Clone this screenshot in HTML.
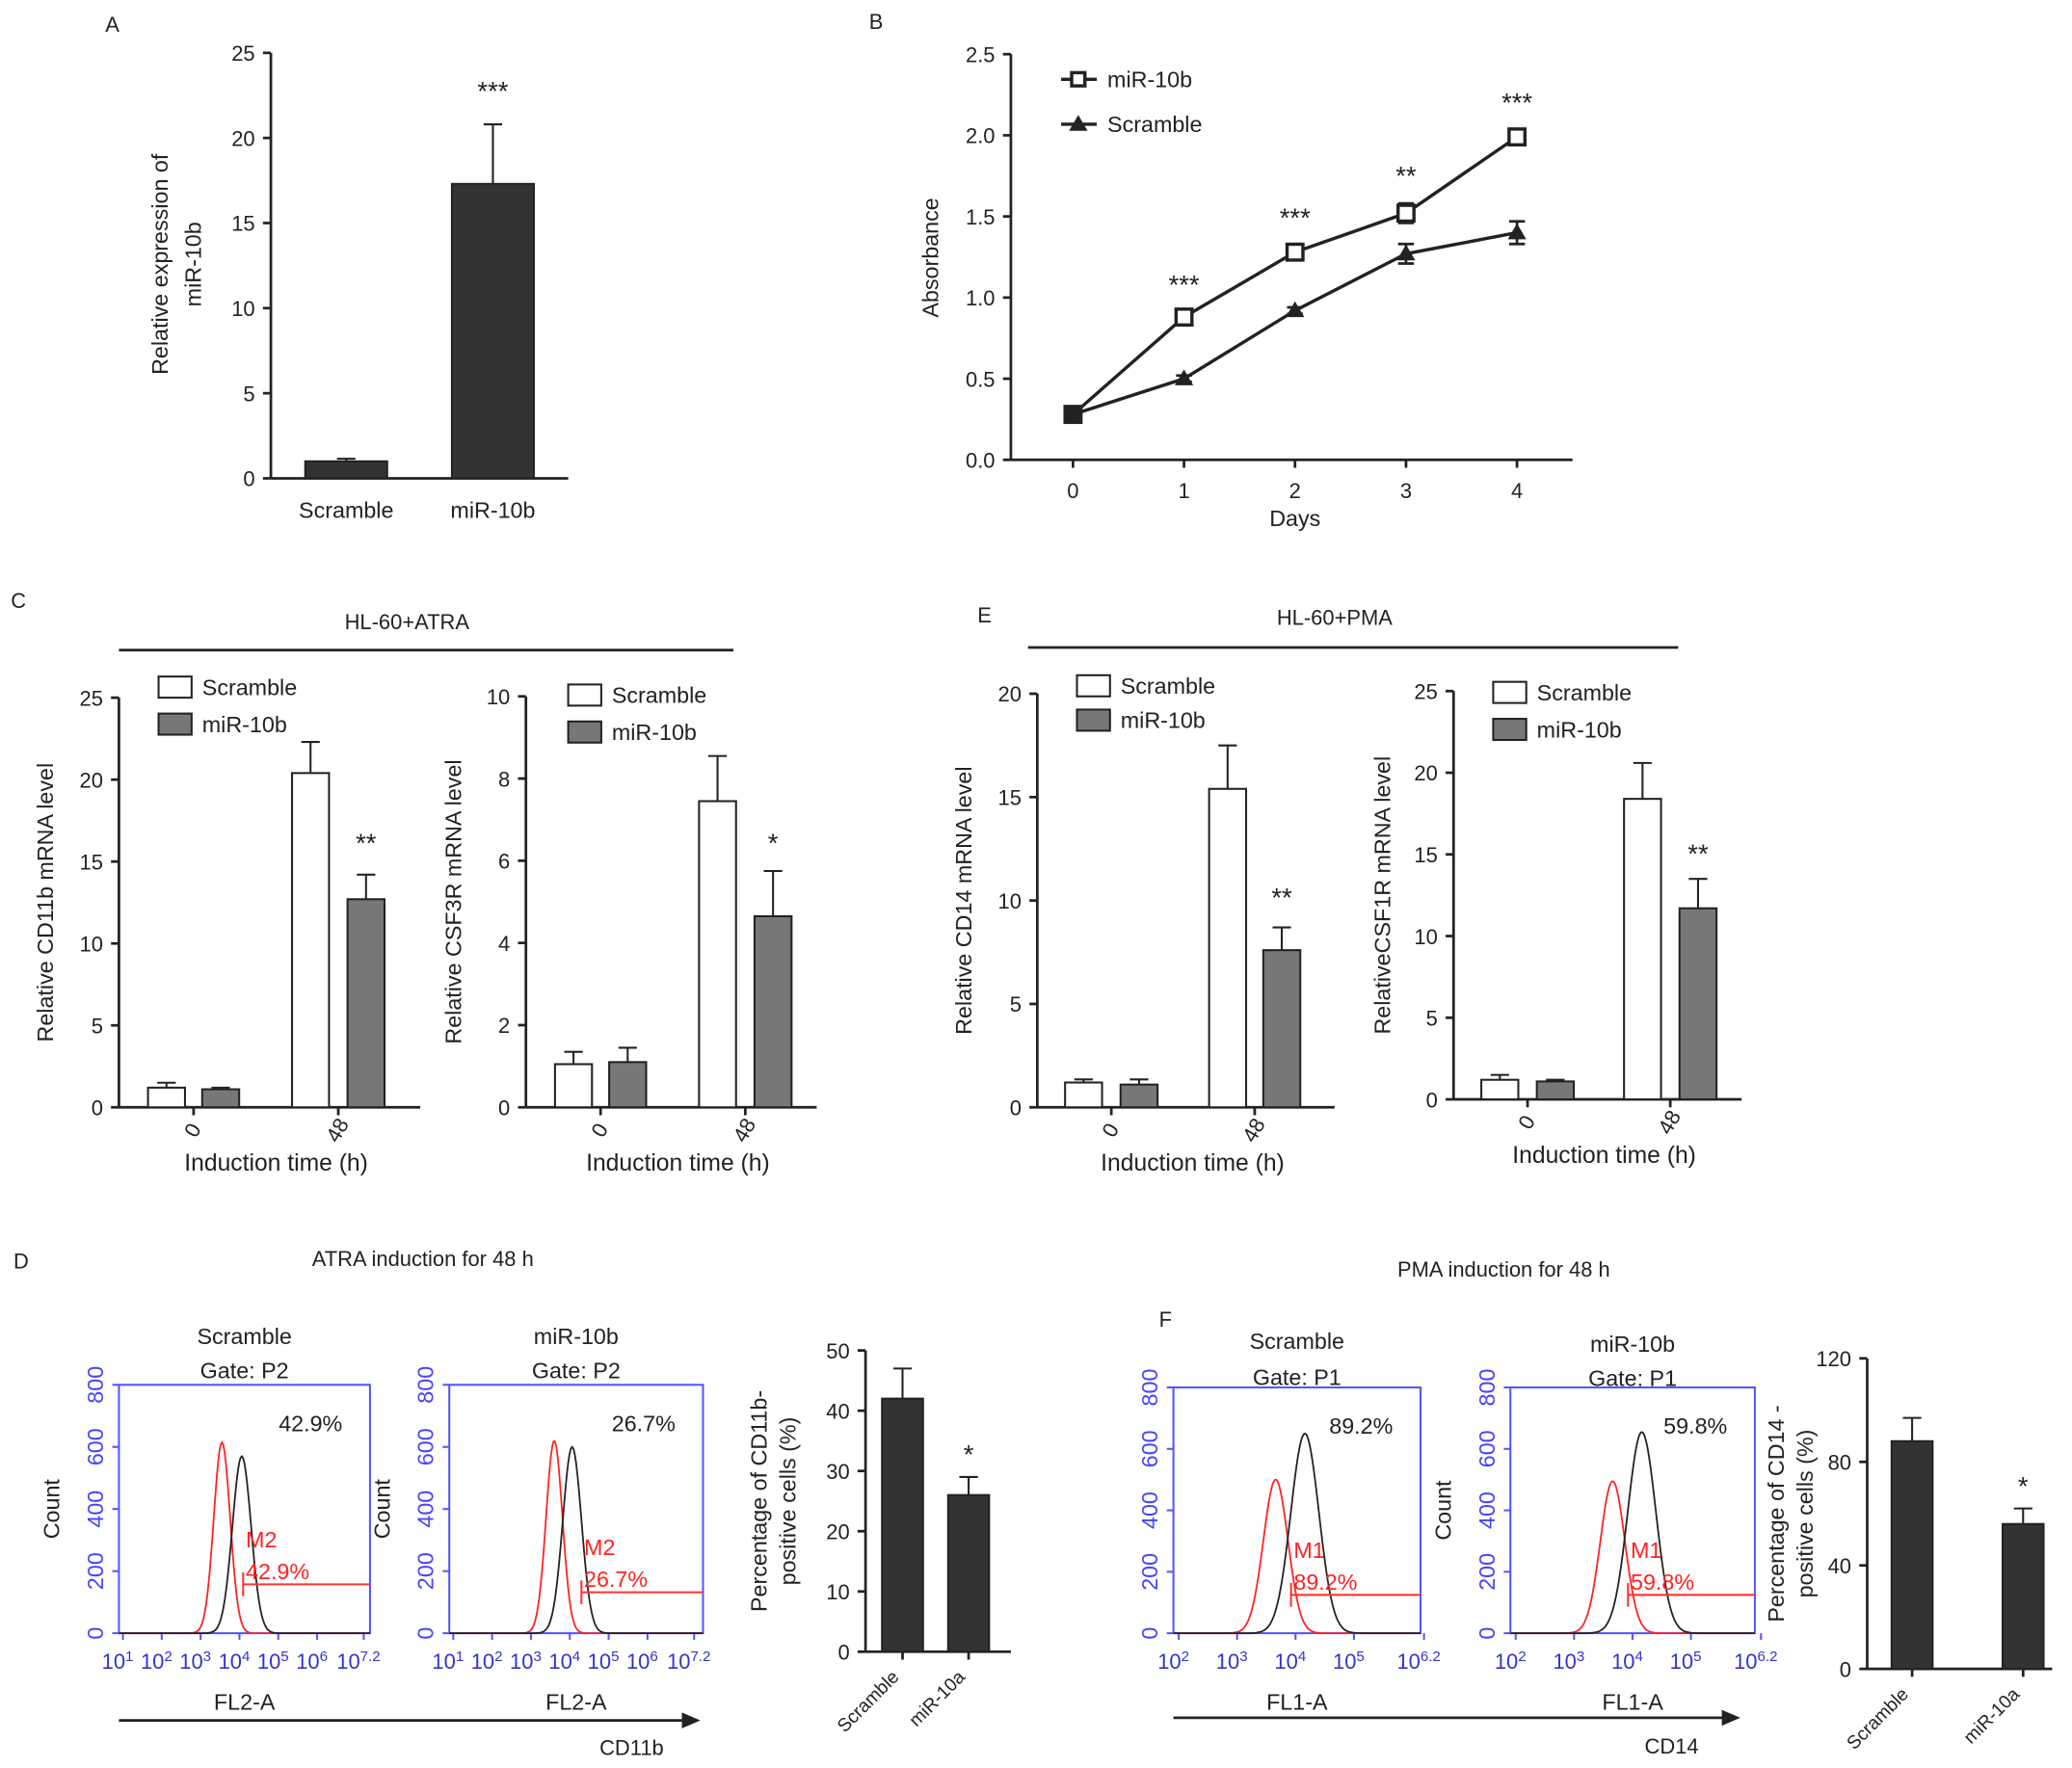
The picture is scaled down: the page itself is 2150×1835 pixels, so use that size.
<!DOCTYPE html>
<html><head><meta charset="utf-8"><style>
html,body{margin:0;padding:0;background:#fff;}
svg{display:block;font-family:"Liberation Sans",Arial,sans-serif;}
</style></head><body>
<svg id="fig" width="2150" height="1835" viewBox="0 0 1568 1338" preserveAspectRatio="none" xmlns="http://www.w3.org/2000/svg"></svg>
<script>
// ---- data ----
const aCats=["Scramble","miR-10b"], aVals=[1.0,17.3], aErr=[0.15,3.5];
const bDays=[0,1,2,3,4];
const bMir=[0.28,0.88,1.28,1.52,1.99], bMirErr=[0.03,0.03,0.04,0.06,0.04];
const bScr=[0.28,0.50,0.92,1.27,1.40], bScrErr=[0.02,0.02,0.02,0.06,0.07];
const bStars=["","***","***","**","***"];
const c1Scr=[1.2,20.4], c1ScrErr=[0.3,1.9], c1Mir=[1.1,12.7], c1MirErr=[0.1,1.5];
const c2Scr=[1.05,7.45], c2ScrErr=[0.3,1.1], c2Mir=[1.1,4.65], c2MirErr=[0.35,1.1];
const e1Scr=[1.2,15.4], e1ScrErr=[0.15,2.1], e1Mir=[1.1,7.6], e1MirErr=[0.25,1.1];
const e2Scr=[1.2,18.4], e2ScrErr=[0.3,2.2], e2Mir=[1.1,11.7], e2MirErr=[0.1,1.8];
const timeCats=["0","48"];
const dCats=["Scramble","miR-10a"], dVals=[42,26], dErr=[5,3];
const fVals=[88,56], fErr=[9,6];
const histPeaks={d1:[3.55,615,4.06,570],d2:[3.6,620,4.06,600],f1:[3.66,500,4.16,650],f2:[3.66,495,4.16,655]};

const S=document.getElementById('fig');const NS="http://www.w3.org/2000/svg";
function el(t,a,txt){const e=document.createElementNS(NS,t);for(const k in a)e.setAttribute(k,a[k]);if(txt!==undefined)e.textContent=txt;S.appendChild(e);return e;}
function tx(x,y,s,o){o=o||{};const e=el('text',{x:x,y:y,'font-size':o.fs||16,'text-anchor':o.anc||'middle',fill:o.fill||'#222'},s);if(o.rot!==undefined)e.setAttribute('transform',`rotate(${o.rot} ${x} ${y})`);

return e;}
function ln(x1,y1,x2,y2,c,w,name){const e=el('line',{x1,y1,x2,y2,stroke:c||'#222','stroke-width':w||2});

return e;}
function yAxis(x,top,bot,max,step,fs,fmt){const sc=v=>bot-(v/max)*(bot-top);ln(x,top,x,bot,'#222',2,'y-axis');
for(let v=0;v<=max+1e-9;v+=step){ln(x-6,sc(v),x,sc(v),'#222',2,'y-tick');tx(x-12,sc(v)+6,fmt?fmt(v):String(v),{anc:'end',fs:fs||16,name:'y-tick-label'});}return sc;}
function bar(cx,w,v,e,sc,fill,name){const y=sc(v),b=sc(0);const r=el('rect',{x:cx-w/2,y:y,width:w,height:b-y,fill:fill,stroke:'#222','stroke-width':1.5});


ln(cx,y,cx,sc(v+e),'#222',1.5,'error-bar');ln(cx-7,sc(v+e),cx+7,sc(v+e),'#222',1.5,'error-cap');}

// Panel letters
[["A",85,24],["B",663,22],["C",14,460],["E",745,471],["D",16,960],["F",882,1004]].forEach(p=>tx(p[1],p[2],p[0],{fs:16,name:'panel-letter'}));

// ---- Panel A ----
(function(){const sc=yAxis(205,40,362,25,5,16);ln(205,362,430,362,'#222',2,'x-axis');
const xs=[262,373];aCats.forEach((c,i)=>{bar(xs[i],62,aVals[i],aErr[i],sc,'#333','bar-'+c.toLowerCase());tx(xs[i],392,c,{fs:17,name:'x-label'});});
tx(373,76,"***",{fs:20,name:'significance'});
tx(127,200,"Relative expression of",{fs:17,rot:-90,name:'y-axis-title'});tx(152,200,"miR-10b",{fs:17,rot:-90,name:'y-axis-title'});})();

// ---- Panel B ----
(function(){const sc=yAxis(765,41,348,2.5,0.5,16,v=>v.toFixed(1));ln(765,348,1190,348,'#222',2,'x-axis');
const xs=d=>812+d*84;
bDays.forEach(d=>{ln(xs(d),348,xs(d),354,'#222',2,'x-tick');tx(xs(d),377,String(d),{fs:16,name:'x-tick-label'});});
tx(980,398,"Days",{fs:17,name:'x-axis-title'});tx(710,195,"Absorbance",{fs:17,rot:-90,name:'y-axis-title'});
function series(vals,errs,marker,name){let pts=bDays.map((d,i)=>xs(d)+','+sc(vals[i])).join(' ');
const p=el('polyline',{points:pts,fill:'none',stroke:'#222','stroke-width':2.5});


bDays.forEach((d,i)=>{const x=xs(d),y=sc(vals[i]);ln(x,sc(vals[i]-errs[i]),x,sc(vals[i]+errs[i]),'#222',2,'error-bar');ln(x-6,sc(vals[i]+errs[i]),x+6,sc(vals[i]+errs[i]),'#222',2,'error-cap');ln(x-6,sc(vals[i]-errs[i]),x+6,sc(vals[i]-errs[i]),'#222',2,'error-cap');
let m;if(marker==='sq')m=el('rect',{x:x-6,y:y-6,width:12,height:12,fill:i===0?'#222':'#fff',stroke:'#222','stroke-width':2.5});else m=el('polygon',{points:`${x},${y-7} ${x+7},${y+5} ${x-7},${y+5}`,fill:'#222'});

});}
series(bScr,bScrErr,'tri','scramble');series(bMir,bMirErr,'sq','mir10b');
bStars.forEach((s,i)=>{if(s)tx(xs(i),sc(Math.max(bMir[i],bScr[i])+bMirErr[i])-14,s,{fs:20,name:'significance'});});
ln(803,60,830,60,'#222',2.5,'legend-line');el('rect',{x:811,y:55,width:10,height:10,fill:'#fff',stroke:'#222','stroke-width':2.5});tx(838,66,"miR-10b",{fs:17,anc:'start',name:'legend-entry'});
ln(803,94,830,94,'#222',2.5,'legend-line');el('polygon',{points:'816,87 823,99 809,99',fill:'#222'});tx(838,100,"Scramble",{fs:17,anc:'start',name:'legend-entry'});})();

// ---- grouped bar panels ----
function grouped(o){const sc=yAxis(o.ax,o.top,o.bot,o.max,o.step,16);ln(o.ax,o.bot,o.xend,o.bot,'#222',2,'x-axis');
timeCats.forEach((c,i)=>{bar(o.xs[i][0],28,o.scr[i],o.scrE[i],sc,'#fff','bar-scramble-'+c);bar(o.xs[i][1],28,o.mir[i],o.mirE[i],sc,'#777','bar-mir10b-'+c);
const cx=(o.xs[i][0]+o.xs[i][1])/2;ln(cx,o.bot,cx,o.bot+6,'#222',2,'x-tick');tx(cx+4,o.bot+20,c,{fs:16,rot:-60,name:'x-tick-label'});});
tx(o.star[0],o.star[1],o.starS,{fs:20,name:'significance'});
tx((o.ax+o.xend)/2+5,o.bot+48,"Induction time (h)",{fs:18,name:'x-axis-title'});
tx(o.ytx,(o.top+o.bot)/2,o.ytitle,{fs:17,rot:-90,name:'y-axis-title'});
el('rect',{x:o.lx,y:o.ly,width:25,height:16,fill:'#fff',stroke:'#222','stroke-width':1.5});tx(o.lx+33,o.ly+14,"Scramble",{fs:17,anc:'start',name:'legend-entry'});
el('rect',{x:o.lx,y:o.ly+o.lgap,width:25,height:16,fill:'#777',stroke:'#222','stroke-width':1.5});tx(o.lx+33,o.ly+o.lgap+14,"miR-10b",{fs:17,anc:'start',name:'legend-entry'});}
grouped({ax:90,top:528,bot:838,max:25,step:5,xend:318,xs:[[126,167],[235,277]],scr:c1Scr,scrE:c1ScrErr,mir:c1Mir,mirE:c1MirErr,star:[277,645],starS:"**",ytx:40,ytitle:"Relative CD11b mRNA level",lx:120,ly:512,lgap:28});
grouped({ax:398,top:527,bot:838,max:10,step:2,xend:618,xs:[[434,475],[543,585]],scr:c2Scr,scrE:c2ScrErr,mir:c2Mir,mirE:c2MirErr,star:[585,645],starS:"*",ytx:349,ytitle:"Relative CSF3R mRNA level",lx:430,ly:518,lgap:28});
grouped({ax:785,top:525,bot:838,max:20,step:5,xend:1010,xs:[[820,862],[929,970]],scr:e1Scr,scrE:e1ScrErr,mir:e1Mir,mirE:e1MirErr,star:[970,686],starS:"**",ytx:735,ytitle:"Relative CD14 mRNA level",lx:815,ly:511,lgap:26});
grouped({ax:1100,top:523,bot:832,max:25,step:5,xend:1318,xs:[[1135,1177],[1243,1285]],scr:e2Scr,scrE:e2ScrErr,mir:e2Mir,mirE:e2MirErr,star:[1285,653],starS:"**",ytx:1052,ytitle:"RelativeCSF1R mRNA level",lx:1130,ly:516,lgap:28});
tx(308,476,"HL-60+ATRA",{fs:16,name:'group-title'});ln(90,492,555,492,'#222',2,'group-line');
tx(1010,473,"HL-60+PMA",{fs:16,name:'group-title'});ln(778,490,1270,490,'#222',2,'group-line');

// ---- flow histograms ----
function hist(o){const b=el('rect',{x:o.x0,y:o.top,width:o.x1-o.x0,height:o.bot-o.top,fill:'none',stroke:'#55f','stroke-width':1.5});


const lx=v=>o.l0x+(v-o.lmin)*o.dec, yc=c=>o.bot-c/800*(o.bot-o.top);
[0,200,400,600,800].forEach(v=>{ln(o.x0-5,yc(v),o.x0,yc(v),'#55f',1.5,'y-tick');tx(o.x0-12,yc(v),String(v),{fs:17,fill:'#44f',rot:-90,name:'y-tick-label'});});
o.decs.forEach(d=>{const e=tx(lx(d[0])-4,o.bot+27,"10",{fs:16,fill:'#33c',name:'x-tick-label'});const s=document.createElementNS(NS,'tspan');s.setAttribute('dy','-6');s.setAttribute('font-size','11');s.textContent=d[1];e.appendChild(s);ln(lx(d[0]),o.bot,lx(d[0]),o.bot+5,'#55f',1.5,'x-tick');});
const pk=histPeaks[o.key];
[[pk[0],pk[1],'#f22',0.21,'red-histogram'],[pk[2],pk[3],'#222',0.24,'black-histogram']].forEach(h=>{let pts=[];for(let px=o.x0;px<=o.x1;px+=1){const v=(px-o.l0x)/o.dec+o.lmin;pts.push(px+','+yc(h[1]*Math.exp(-Math.pow((v-h[0])/h[3],2)/2)).toFixed(1));}
const p=el('polyline',{points:pts.join(' '),fill:'none',stroke:h[2],'stroke-width':1.3});

});
ln(o.gate,o.gy,o.x1,o.gy,'#f33',1.5,'gate-marker');ln(o.gate,o.gy-9,o.gate,o.gy+9,'#f33',1.5,'gate-marker');
tx(o.gate+2,o.gy-28,o.m,{fs:17,fill:'#f22',anc:'start',name:'gate-label'});tx(o.gate+2,o.gy-4,o.pct,{fs:17,fill:'#f22',anc:'start',name:'gate-percent'});
tx(o.x1-45,o.top+35,o.pct,{fs:17,name:'positive-percent'});
tx((o.x0+o.x1)/2,o.top-o.t1,o.title,{fs:17,name:'histogram-title'});tx((o.x0+o.x1)/2,o.top-o.t2,o.gateName,{fs:17,name:'gate-name'});
if(o.count)tx(o.x0-45,(o.top+o.bot)/2,"Count",{fs:17,rot:-90,name:'y-axis-title'});
tx((o.x0+o.x1)/2,o.bot+58,o.xl,{fs:17,name:'x-axis-title'});}
const dDecs=[[1,"1"],[2,"2"],[3,"3"],[4,"4"],[5,"5"],[6,"6"],[7.2,"7.2"]];
const fDecs=[[2,"2"],[3,"3"],[4,"4"],[5,"5"],[6.2,"6.2"]];
hist({key:'d1',x0:90,x1:280,top:1048,bot:1236,l0x:93,lmin:1,dec:29.4,decs:dDecs,gate:184,gy:1199,m:"M2",pct:"42.9%",title:"Scramble",gateName:"Gate: P2",count:true,xl:"FL2-A",t1:31,t2:5});
hist({key:'d2',x0:340,x1:532,top:1048,bot:1236,l0x:343,lmin:1,dec:29.4,decs:dDecs,gate:440,gy:1205,m:"M2",pct:"26.7%",title:"miR-10b",gateName:"Gate: P2",count:true,xl:"FL2-A",t1:31,t2:5});
hist({key:'f1',x0:888,x1:1075,top:1050,bot:1236,l0x:892,lmin:2,dec:44.2,decs:fDecs,gate:977,gy:1207,m:"M1",pct:"89.2%",title:"Scramble",gateName:"Gate: P1",count:false,xl:"FL1-A",t1:29,t2:2});
hist({key:'f2',x0:1143,x1:1328,top:1050,bot:1236,l0x:1147,lmin:2,dec:44.2,decs:fDecs,gate:1232,gy:1207,m:"M1",pct:"59.8%",title:"miR-10b",gateName:"Gate: P1",count:true,xl:"FL1-A",t1:27,t2:1});
ln(90,1302,518,1302,'#222',2,'cd11b-arrow');el('polygon',{points:'530,1302 516,1296 516,1308',fill:'#222'});tx(478,1328,"CD11b",{fs:16,name:'arrow-label'});
ln(888,1300,1305,1300,'#222',2,'cd14-arrow');el('polygon',{points:'1317,1300 1303,1294 1303,1306',fill:'#222'});tx(1265,1327,"CD14",{fs:16,name:'arrow-label'});
tx(320,958,"ATRA induction for 48 h",{fs:16,name:'section-title'});tx(1138,966,"PMA induction for 48 h",{fs:16,name:'section-title'});

// ---- small bar charts D and F ----
function small(o){const sc=yAxis(o.ax,o.top,o.bot,o.max,o.step,16);ln(o.ax,o.bot,o.xend,o.bot,'#222',2,'x-axis');
dCats.forEach((c,i)=>{bar(o.xs[i],31,o.vals[i],o.err[i],sc,'#333','bar-'+c.toLowerCase());ln(o.xs[i],o.bot,o.xs[i],o.bot+6,'#222',2,'x-tick');tx(o.xs[i]-2,o.bot+20,c,{fs:14,anc:'end',rot:-45,name:'x-label'});});
tx(o.xs[1],sc(o.vals[1]+o.err[1])-10,"*",{fs:20,name:'significance'});
tx(o.ytx,(o.top+o.bot)/2,o.t1,{fs:17,rot:-90,name:'y-axis-title'});tx(o.ytx+22,(o.top+o.bot)/2,"positive cells (%)",{fs:17,rot:-90,name:'y-axis-title'});}
small({ax:655,top:1022,bot:1250,max:50,step:10,xend:765,xs:[683,733],vals:dVals,err:dErr,ytx:580,t1:"Percentage of CD11b-"});
small({ax:1413,top:1028,bot:1263,max:120,step:40,xend:1553,xs:[1447,1531],vals:fVals,err:fErr,ytx:1350,t1:"Percentage of CD14 -"});
</script>
</body></html>
